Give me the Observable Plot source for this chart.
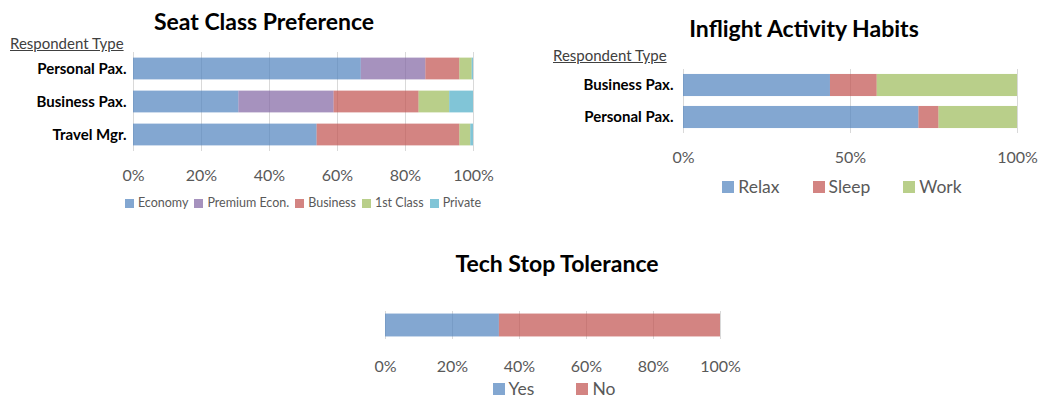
<!DOCTYPE html>
<html><head><meta charset="utf-8">
<script src="https://cdn.jsdelivr.net/npm/d3@7"></script>
<script src="https://cdn.jsdelivr.net/npm/@observablehq/plot@0.6"></script>
<style>
body{margin:0;background:#fff;font-family:Lato,"Open Sans",sans-serif;}
#page{position:relative;width:1038px;height:400px;overflow:hidden;background:#fff;}
.abs{position:absolute;}
.title{font-weight:bold;font-size:23px;color:#000;text-align:center;white-space:nowrap;line-height:1;width:600px;}
.resp{font-size:15px;color:#404040;text-decoration:underline;line-height:1;white-space:nowrap;}
.legend{display:flex;justify-content:center;align-items:center;white-space:nowrap;color:#595959;line-height:1;width:600px;}
.legend .item{display:flex;align-items:center;}
.legend .sw{display:inline-block;}
</style></head><body><div id="page"></div>
<script>
// ---- data ----
const seatTypes = ["Personal Pax.", "Business Pax.", "Travel Mgr."];
const seatClasses = ["Economy", "Premium Econ.", "Business", "1st Class", "Private"];
const seatEconomy = [67, 31, 54];
const seatPremium = [19, 28, 0];
const seatBusiness = [10, 25, 42];
const seatFirst = [3.6, 9, 3.2];
const seatPrivate = [0.4, 7, 0.8];
const seatColors = ["#4F81BD", "#8064A2", "#C0504D", "#9BBB59", "#4BACC6"];
const seatTicks = [0, 20, 40, 60, 80, 100];

const actTypes = ["Business Pax.", "Personal Pax."];
const activities = ["Relax", "Sleep", "Work"];
const actRelax = [44, 70.5];
const actSleep = [14, 6];
const actWork = [42, 23.5];
const actColors = ["#4F81BD", "#C0504D", "#9BBB59"];
const actTicks = [0, 50, 100];

const techTypes = ["All"];
const techAnswers = ["Yes", "No"];
const techYes = [34];
const techNo = [66];
const techColors = ["#4F81BD", "#C0504D"];
const techTicks = [0, 20, 40, 60, 80, 100];

// ---- helpers ----
function makeRows(types, cats, series) {
  const rows = [];
  cats.forEach((c, j) => types.forEach((t, i) => rows.push({type: t, cat: c, value: series[j][i]})));
  return rows;
}
const page = document.getElementById("page");
function place(el, left, top) {
  el.classList.add("abs");
  el.style.left = left + "px";
  el.style.top = top + "px";
  page.appendChild(el);
  return el;
}
function textDiv(cls, txt, left, top) {
  const d = document.createElement("div");
  d.className = cls;
  d.textContent = txt;
  return place(d, left, top);
}
function legend(cats, colors, center, top, o) {
  const d = document.createElement("div");
  d.className = "legend";
  d.style.fontSize = o.font + "px";
  d.style.gap = o.gap + "px";
  cats.forEach((c, i) => {
    const it = document.createElement("span");
    it.className = "item";
    const sw = document.createElement("span");
    sw.className = "sw";
    sw.style.width = o.sw + "px";
    sw.style.height = o.sw + "px";
    sw.style.background = colors[i];
    sw.style.opacity = 0.7;
    sw.style.marginRight = o.tg + "px";
    const tx = document.createElement("span");
    tx.textContent = c;
    it.appendChild(sw); it.appendChild(tx);
    d.appendChild(it);
  });
  return place(d, center - 300, top);
}
function chart(o) {
  return Plot.plot({
    width: o.width, height: o.height,
    marginLeft: o.ml, marginRight: o.mr, marginTop: o.mt, marginBottom: o.mb,
    style: {fontFamily: "Lato, sans-serif", background: "transparent", overflow: "visible"},
    x: {domain: [0, 100], axis: null},
    y: {domain: o.types, paddingInner: o.pi, paddingOuter: o.po, round: false, axis: null},
    color: {domain: o.cats, range: o.colors},
    marks: [
      Plot.ruleX(o.ticks, {stroke: "#d9d9d9", strokeWidth: 1}),
      Plot.barX(o.rows, {x: "value", y: "type", fill: "cat", fillOpacity: 0.7}),
      Plot.axisX({ticks: o.ticks, tickFormat: d => d + "%", tickSize: 0, tickPadding: o.tp, fontSize: 16, fill: "#595959", label: null}),
      o.showY ? Plot.axisY({tickSize: 0, tickPadding: o.yp, fontSize: 15, fontWeight: "bold", fill: "#000", label: null}) : null
    ]
  });
}

// ---- chart 1: Seat Class Preference ----
textDiv("title", "Seat Class Preference", 264 - 300, 10);
textDiv("resp", "Respondent Type", 10, 36);
place(chart({
  rows: makeRows(seatTypes, seatClasses, [seatEconomy, seatPremium, seatBusiness, seatFirst, seatPrivate]),
  types: seatTypes, cats: seatClasses, colors: seatColors, ticks: seatTicks,
  width: 500, height: 150, ml: 133, mr: 27, mt: 12, mb: 39,
  pi: 0.34, po: 0.17, tp: 18.5, showY: true, yp: 7
}), 0, 40);
legend(seatClasses, seatColors, 303, 197, {font: 12.5, gap: 6, sw: 9, tg: 4});

// ---- chart 2: Inflight Activity Habits ----
textDiv("title", "Inflight Activity Habits", 804 - 300, 17);
textDiv("resp", "Respondent Type", 553, 48);
place(chart({
  rows: makeRows(actTypes, activities, [actRelax, actSleep, actWork]),
  types: actTypes, cats: activities, colors: actColors, ticks: actTicks,
  width: 498, height: 113, ml: 143, mr: 21, mt: 9, mb: 40,
  pi: 0.31, po: 0.155, tp: 18.5, showY: true, yp: 10
}), 540, 60);
legend(activities, actColors, 842, 178, {font: 17.5, gap: 33, sw: 12, tg: 4});

// ---- chart 3: Tech Stop Tolerance ----
textDiv("title", "Tech Stop Tolerance", 557 - 300, 252);
place(chart({
  rows: makeRows(techTypes, techAnswers, [techYes, techNo]),
  types: techTypes, cats: techAnswers, colors: techColors, ticks: techTicks,
  width: 440, height: 84, ml: 85, mr: 20, mt: 11, mb: 45,
  pi: 0.1, po: 0.1, tp: 21, showY: false
}), 300, 300);
legend(techAnswers, techColors, 554, 380, {font: 17.5, gap: 42, sw: 12, tg: 4});
</script></body></html>
